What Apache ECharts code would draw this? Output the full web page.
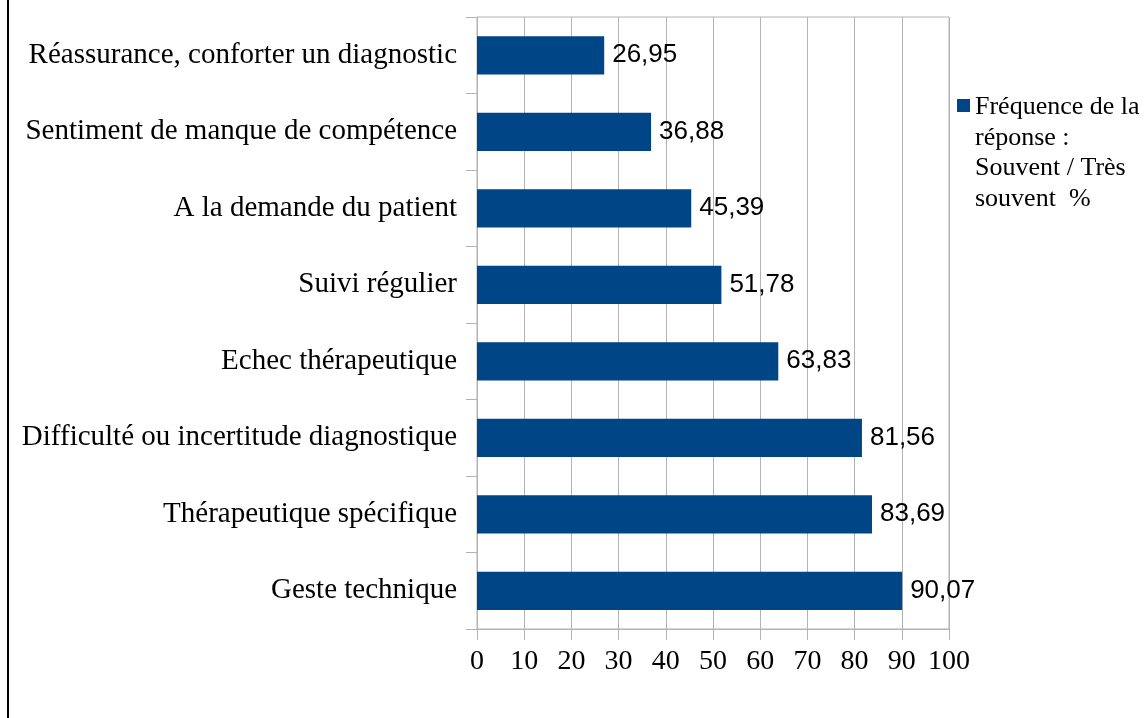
<!DOCTYPE html>
<html>
<head>
<meta charset="utf-8">
<script src="https://cdn.jsdelivr.net/npm/echarts@6/dist/echarts.min.js"></script>
<style>
html,body{margin:0;padding:0;background:#fff;}
#chart{width:1146px;height:718px;}
</style>
</head>
<body>
<div id="chart"></div>
<script>
const categories = [
  "Réassurance, conforter un diagnostic",
  "Sentiment de manque de compétence",
  "A la demande du patient",
  "Suivi régulier",
  "Echec thérapeutique",
  "Difficulté ou incertitude diagnostique",
  "Thérapeutique spécifique",
  "Geste technique"
];
const values = [26.95, 36.88, 45.39, 51.78, 63.83, 81.56, 83.69, 90.07];
const seriesName = "Fréquence de la\nréponse :\nSouvent / Très\nsouvent  %";
const xTicks = [0, 10, 20, 30, 40, 50, 60, 70, 80, 90, 100];

const serif = "'Liberation Serif', 'Times New Roman', serif";
const sans = "'Liberation Sans', Arial, sans-serif";
const gridColor = "#b3b3b3";
const LH = 30.5;

const chart = echarts.init(document.getElementById('chart'));
chart.setOption({
  animation: false,
  backgroundColor: '#ffffff',
  grid: {
    left: 477, right: 197, top: 17, bottom: 89,
    show: true, borderColor: gridColor, borderWidth: 1, backgroundColor: 'transparent'
  },
  legend: {
    data: [seriesName],
    left: 952,
    top: 87,
    itemWidth: 13,
    itemHeight: 122,
    itemGap: 10,
    icon: 'path://M0,0L13,0M0,7h13v13h-13zM0,122L13,122',
    textStyle: {
      fontFamily: serif, fontSize: 26, color: '#000',
      lineHeight: LH
    }
  },
  xAxis: {
    type: 'value',
    min: xTicks[0], max: xTicks[xTicks.length - 1], interval: 10,
    axisLine: { show: true, lineStyle: { color: gridColor } },
    axisTick: { show: true, length: 11, lineStyle: { color: gridColor } },
    splitLine: { show: true, lineStyle: { color: gridColor } },
    axisLabel: { fontFamily: serif, fontSize: 28, color: '#000', margin: 19 }
  },
  yAxis: {
    type: 'category',
    inverse: true,
    data: categories,
    axisLine: { show: true, lineStyle: { color: gridColor } },
    axisTick: { show: true, length: 11, lineStyle: { color: gridColor } },
    axisLabel: { fontFamily: serif, fontSize: 29, color: '#000', margin: 20 }
  },
  series: [{
    name: seriesName,
    type: 'bar',
    data: values,
    barWidth: '50%',
    itemStyle: { color: '#004586' },
    label: {
      show: true, position: 'right', distance: 8,
      fontFamily: sans, fontSize: 26, color: '#000',
      formatter: p => p.value.toFixed(2).replace('.', ',')
    }
  }],
  graphic: [{
    type: 'line',
    shape: { x1: 8, y1: 0, x2: 8, y2: 718 },
    style: { stroke: '#000', lineWidth: 2 }
  }]
});
</script>
</body>
</html>
